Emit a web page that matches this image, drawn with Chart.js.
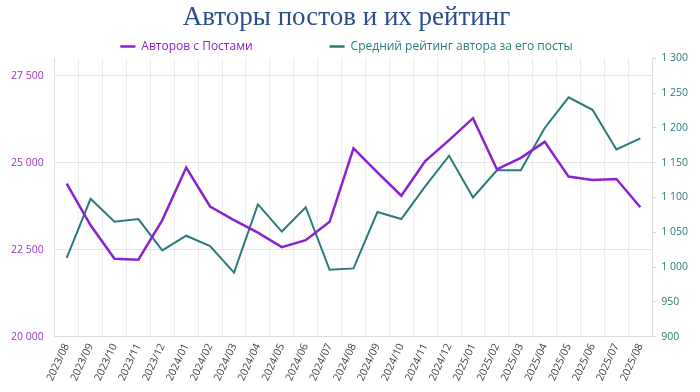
<!DOCTYPE html>
<html lang="ru">
<head>
  <meta charset="UTF-8">
  <title>Авторы постов и их рейтинг</title>
  <script src="https://cdn.jsdelivr.net/npm/chart.js"></script>
  <style>
    html, body { margin: 0; padding: 0; background: #fff; }
    #wrap { width: 700px; height: 392px; }
  </style>
</head>
<body>
  <div id="wrap"><canvas id="myChart"></canvas></div>

  <script>
    const months = [
      '2023/08', '2023/09', '2023/10', '2023/11', '2023/12',
      '2024/01', '2024/02', '2024/03', '2024/04', '2024/05', '2024/06', '2024/07',
      '2024/08', '2024/09', '2024/10', '2024/11', '2024/12',
      '2025/01', '2025/02', '2025/03', '2025/04', '2025/05', '2025/06', '2025/07', '2025/08'
    ];

    // авторы с постами (левая ось)
    const authors = [
      24400, 23200, 22240, 22210, 23350,
      24860, 23740, 23350, 22990, 22570, 22770, 23300,
      25410, 24720, 24050, 25050, 25650,
      26280, 24810, 25140, 25600, 24600, 24500, 24530, 23720
    ];

    // средний рейтинг автора (правая ось)
    const rating = [
      1013, 1098, 1065, 1069, 1024,
      1045, 1030, 992, 1090, 1051, 1086, 996,
      998, 1079, 1069, 1116, 1160,
      1100, 1139, 1139, 1200, 1244, 1226, 1169, 1185
    ];

    const leftTicks = [20000, 22500, 25000, 27500];

    const PURPLE = '#8a22d0';
    const TEAL = '#2a7b79';
    const LEGEND_GAP = 77;

    const fmt = v => String(Math.round(v)).replace(/\B(?=(\d{3})+(?!\d))/g, ' ');

    // раздвигаем пункты легенды, не раздувая её по высоте
    const spreadLegend = {
      id: 'spreadLegend',
      afterInit(chart) {
        const lg = chart.legend;
        const fit = lg.fit, draw = lg.draw;
        lg.fit = function () { fit.call(this); this.height = 24; };
        lg.draw = function () {
          const t = this.top;
          this.top = t - (LEGEND_GAP - 6);
          draw.call(this);
          this.top = t;
        };
      }
    };

    new Chart(document.getElementById('myChart'), {
      type: 'line',
      data: {
        labels: months,
        datasets: [
          {
            label: 'Авторов с Постами',
            data: authors,
            borderColor: PURPLE,
            backgroundColor: PURPLE,
            borderWidth: 2.5,
            pointRadius: 0,
            tension: 0,
            yAxisID: 'y'
          },
          {
            label: 'Средний рейтинг автора за его посты',
            data: rating,
            borderColor: TEAL,
            backgroundColor: TEAL,
            borderWidth: 2,
            pointRadius: 0,
            tension: 0,
            yAxisID: 'y1'
          }
        ]
      },
      options: {
        responsive: true,
        maintainAspectRatio: false,
        animation: false,
        layout: { padding: { left: 0, right: 7, top: 0, bottom: 4 } },
        plugins: {
          title: {
            display: true,
            text: 'Авторы постов и их рейтинг',
            color: '#2e4d8f',
            font: { family: 'Liberation Serif', size: 27, weight: 'normal' },
            padding: { top: 2, bottom: 0 }
          },
          legend: {
            labels: {
              color: PURPLE,
              boxWidth: 15,
              boxHeight: 2.5,
              padding: LEGEND_GAP,
              font: { family: 'Open Sans', size: 12 },
              generateLabels(chart) {
                return chart.data.datasets.map((ds, i) => ({
                  text: ds.label,
                  fillStyle: ds.borderColor,
                  strokeStyle: ds.borderColor,
                  lineWidth: 0,
                  fontColor: ds.borderColor,
                  datasetIndex: i
                }));
              }
            }
          },
          tooltip: { enabled: false }
        },
        scales: {
          x: {
            offset: true,
            grid: { offset: true, color: '#ececec', drawTicks: false },
            border: { color: '#dddddd' },
            ticks: {
              color: '#404040',
              font: { family: 'Open Sans', size: 10.5 },
              minRotation: 65,
              maxRotation: 65,
              padding: 5,
              autoSkip: false
            }
          },
          y: {
            position: 'left',
            min: 20000,
            max: 28000,
            grid: { color: '#e4e4e4', drawTicks: false },
            border: { color: '#dddddd' },
            afterBuildTicks: axis => { axis.ticks = leftTicks.map(v => ({ value: v })); },
            ticks: {
              color: '#9b36c4',
              padding: 11,
              font: { family: 'Open Sans', size: 10.5 },
              callback: v => fmt(v)
            }
          },
          y1: {
            position: 'right',
            min: 900,
            max: 1300,
            grid: { drawOnChartArea: false, color: '#d8d8d8', tickLength: 4 },
            border: { color: '#dddddd' },
            ticks: {
              stepSize: 50,
              color: '#2a7b79',
              padding: 5,
              font: { family: 'Open Sans', size: 10.5 },
              callback: v => fmt(v)
            }
          }
        }
      },
      plugins: [spreadLegend]
    });
  </script>
</body>
</html>
